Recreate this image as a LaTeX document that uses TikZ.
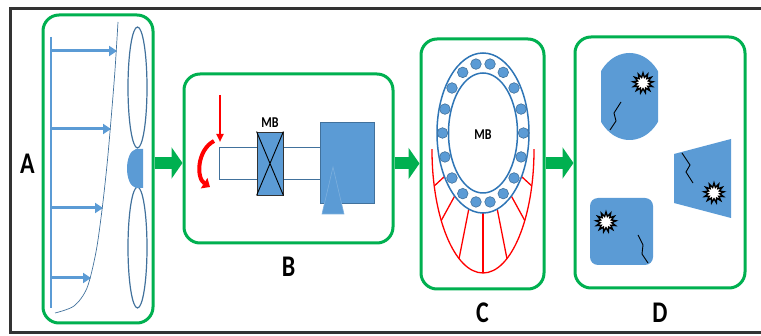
\documentclass[tikz,border=0pt]{standalone}
\usepackage{fontspec}
\setmainfont{Carlito}
\usetikzlibrary{arrows.meta,positioning,shapes.geometric,calc}

\definecolor{pgreen}{HTML}{00B050}
\definecolor{pblue}{HTML}{5B9BD5}
\definecolor{pedge}{HTML}{41719C}
\definecolor{pring}{HTML}{2E75B6}
\definecolor{pframe}{HTML}{333333}

\begin{document}
\begin{tikzpicture}[x=1pt,y=-1pt,
  panel/.style={draw=pgreen,line width=3pt,rounded corners=16pt},
  flow/.style={draw=pgreen,line width=12pt,-{Triangle[length=11pt 0 0,width=31pt 0 0]}},
  lbl/.style={font=\fontsize{30}{30}\selectfont\bfseries,inner sep=0pt},
  mb/.style={font=\fontsize{15}{15}\selectfont\bfseries,inner sep=0pt},
  wind/.style={draw=pblue,line width=3pt,-{Triangle[length=8pt 0 0,width=10pt 0 0]}},
  part/.style={fill=pblue,draw=pedge,line width=0.6pt},
  cage/.style={draw=red,line width=1.3pt},
  crack/.style={draw=black,line width=0.9pt},
  spark/.style={star,star points=13,star point ratio=1.75,draw=black,fill=white,
    line width=1.4pt,minimum size=20pt,inner sep=0pt}]
\useasboundingbox (0,0) rectangle (761,336);
\draw[pframe,line width=3pt] (10.5,8.5) rectangle (775,332.5);

\node[panel,minimum width=110pt,minimum height=308pt] (A) at (98,169) {};
\node[panel,minimum width=209pt,minimum height=169pt] (B) at (288.5,158.5) {};
\node[panel,minimum width=123pt,minimum height=250pt] (C) at (482.5,164) {};
\node[panel,minimum width=170pt,minimum height=251pt] (D) at (660,162.5) {};

\node[lbl] (labA) at ([xshift=-14pt,yshift=5.5pt]A.west) {\scalebox{0.8}[1]{A}};
\node[lbl] (labB) at ([yshift=-22pt]B.south) {\scalebox{0.8}[1]{B}};
\node[lbl] (labC) at ([yshift=-22pt]C.south) {\scalebox{0.8}[1]{C}};
\node[lbl] (labD) at ([yshift=-23pt]D.south) {\scalebox{0.8}[1]{D}};

\draw[flow] ([yshift=6pt]A.east) -- ([yshift=6pt]A.east -| B.west);
\draw[flow] ([yshift=-5pt]B.east) -- ([yshift=-5pt]B.east -| C.west);
\draw[flow] ([yshift=1pt]C.east) -- ([yshift=1pt]C.east -| D.west);

% wind profile and rotor
\draw[pblue,line width=1.3pt] (51,37) -- (51,308);
\foreach \y/\x in {51/117,129/111,208/103,278/91}
  \draw[wind] (51,\y) -- (\x,\y);
\draw[pedge,line width=0.7pt] plot[smooth] coordinates {(55,313) (74,306) (87,288) (96,252) (102,210) (107,165) (111,120) (115,70) (118,22)};
\draw[pedge,line width=1.2pt] (137.5,87.5) ellipse [x radius=9.5pt,y radius=60.5pt];
\draw[pedge,line width=1.2pt] (137.5,247.5) ellipse [x radius=9.5pt,y radius=60.5pt];
\fill[pblue] (143,149) -- (136,149) .. controls (124,152) and (124,185) .. (136,188) -- (143,188) -- cycle;

% drive train
\node[draw=pedge,fill=white,line width=1pt,minimum width=103pt,minimum height=32pt] (shaft) at (270.5,164) {};
\node[fill=pblue,draw=pedge,line width=0.6pt,minimum width=54pt,minimum height=81pt] (gear) at (347,162.5) {};
\fill[pblue] (333,167) -- (322,214) -- (344,214) -- cycle;
\draw[pblue!80!white,line width=0.6pt] (333,167) -- (322,214) -- (344,214) -- cycle;
\node[fill=pblue,draw=black!80,line width=0.8pt,minimum width=26pt,minimum height=63pt] (brgB) at (270,163.5) {};
\draw[black,line width=0.9pt] (brgB.north west) -- (brgB.south east) (brgB.north east) -- (brgB.south west);
\node[mb] (mbB) at (270,123) {\scalebox{0.8}[1]{MB}};
\draw[red,line width=2pt,-{Triangle[length=8pt 0 0,width=7pt 0 0]}] (220,95) -- (220,142);
\draw[red,line width=4pt,-{Triangle[length=7pt 0 0,width=12pt 0 0]}] (214,141) .. controls (197,150) and (196,178) .. (210,187);

% main bearing with load zone
\coordinate (hubC) at (483,133);
\coordinate (cageC) at (483,150);
\begin{scope}
  \clip (425,150) rectangle (545,285);
  \draw[cage] (cageC) ellipse [x radius=51pt,y radius=123pt];
\end{scope}
\foreach \b/\r in {270/270,288/298,308/325,327/343,252/242,232/215,213/197}
  \draw[cage] ($(hubC)+(\b:46pt and 80pt)$) -- ($(cageC)+(\r:51pt and 123pt)$);
\draw[pring,line width=1.5pt,fill=white] (hubC) ellipse [x radius=46pt,y radius=80pt];
\draw[pring,line width=1.5pt] (hubC) ellipse [x radius=34.5pt,y radius=60pt];
\foreach \a in {0,20,...,340}
  \draw[part] ($(hubC)+(\a:40.5pt and 70pt)$) circle [radius=5.3pt];
\node[mb] (mbC) at (483,135) {\scalebox{0.8}[1]{MB}};

% damaged parts
\begin{scope}
  \clip (601,40) rectangle (658,150);
  \fill[pblue] (629.5,96.5) ellipse [x radius=35pt,y radius=43.5pt];
\end{scope}
\fill[pblue] (674,154) -- (731,139) -- (731,218) -- (674,203) -- cycle;
\fill[pblue,rounded corners=8pt] (590,198) rectangle (653,265);
\node[spark] (s1) at (643,83) {};
\node[spark] (s2) at (714,193) {};
\node[spark] (s3) at (606,222) {};
\draw[crack] (610,130) -- (616,121) -- (614,113) -- (621,102);
\draw[crack] (682,153) -- (690,165) -- (686,172) -- (693,183);
\draw[crack] (638,235) -- (643,245) -- (642,254) -- (648,263);
\end{tikzpicture}
\end{document}
